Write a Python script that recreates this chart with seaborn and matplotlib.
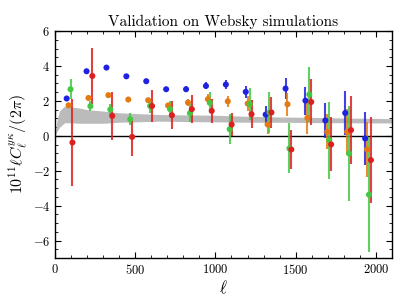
import numpy as np
import pandas as pd
import matplotlib
matplotlib.use("Agg")
import matplotlib.pyplot as plt
import seaborn as sns
from matplotlib.ticker import MultipleLocator

# bin centres (ell) for the four estimators, each shifted a little
ell_blue = [73, 197, 321, 445, 569, 693, 817, 941, 1065, 1189, 1313, 1437, 1561, 1685, 1809, 1933]
ell_orange = [e + 12 for e in ell_blue]
ell_green = [e + 24 for e in ell_blue]
ell_red = [e + 36 for e in ell_blue]

blue_val = [2.14, 3.70, 3.91, 3.41, 3.13, 2.67, 2.67, 2.86, 2.94, 2.52, 1.22, 2.71, 2.02, 0.88, 1.31, -0.15]
blue_err = [0.08, 0.08, 0.08, 0.10, 0.12, 0.15, 0.18, 0.20, 0.25, 0.35, 0.50, 0.60, 0.80, 1.00, 1.25, 1.50]

orange_val = [1.75, 2.17, 2.33, 2.08, 2.04, 1.74, 1.91, 2.10, 1.98, 1.85, 0.65, 1.81, 1.03, 0.23, 0.23, -0.78]
orange_err = [0.08, 0.10, 0.10, 0.10, 0.12, 0.15, 0.20, 0.30, 0.30, 0.45, 0.55, 0.65, 0.90, 1.00, 1.30, 1.55]

green_val = [2.67, 1.70, 1.51, 0.95, 1.71, 1.53, 1.30, 1.89, 0.38, 1.81, 1.34, -0.72, 2.37, -0.25, -1.01, -3.37]
green_err = [0.57, 0.27, 0.30, 0.35, 0.40, 0.45, 0.50, 0.60, 0.85, 0.92, 1.20, 1.43, 1.60, 2.20, 2.70, 3.30]

red_val = [-0.38, 3.43, 1.14, -0.06, 1.71, 1.18, 1.53, 1.43, 0.65, 1.24, 1.34, -0.78, 1.94, -0.49, 0.33, -1.39]
red_err = [2.50, 1.60, 1.40, 1.10, 0.90, 0.80, 0.80, 0.70, 0.67, 0.80, 0.90, 1.10, 1.30, 1.55, 1.95, 2.45]

# grey simulation scatter envelope
band_ell = [0, 15, 30, 60, 100, 150, 200, 300, 400, 500, 650, 800, 1000, 1200, 1400, 1600, 1800, 2000, 2100]
band_lo = [0.0, 0.3, 0.5, 0.75, 0.75, 0.72, 0.72, 0.72, 0.78, 0.80, 0.84, 0.82, 0.80, 0.78, 0.78, 0.76, 0.75, 0.74, 0.74]
band_hi = [0.1, 1.0, 1.45, 1.7, 1.65, 1.6, 1.5, 1.42, 1.32, 1.28, 1.22, 1.20, 1.18, 1.12, 1.08, 1.06, 1.02, 1.00, 0.98]

sns.set_style("ticks")
plt.rcParams['font.family'] = 'serif'
plt.rcParams['font.serif'] = ['cmr10', 'DejaVu Serif']
plt.rcParams['mathtext.fontset'] = 'cm'
plt.rcParams['axes.formatter.use_mathtext'] = True
plt.rcParams['axes.edgecolor'] = 'black'
plt.rcParams['axes.linewidth'] = 1.0
plt.rcParams['xtick.color'] = 'black'
plt.rcParams['ytick.color'] = 'black'
plt.rcParams['text.color'] = 'black'
plt.rcParams['axes.labelcolor'] = 'black'

series = [
    ("blue", ell_blue, blue_val, blue_err, "#2020e0"),
    ("orange", ell_orange, orange_val, orange_err, "#e47a12"),
    ("green", ell_green, green_val, green_err, "#44c844"),
    ("red", ell_red, red_val, red_err, "#dc2020"),
]

df = pd.concat([pd.DataFrame({"ell": e, "val": v, "err": s, "name": n})
                for n, e, v, s, c in series], ignore_index=True)
palette = {n: c for n, e, v, s, c in series}

fig = plt.figure(figsize=(4.07, 3.05), dpi=100)
ax = fig.add_axes([0.135, 0.154, 0.828, 0.744])

ax.fill_between(band_ell, band_lo, band_hi, color="#bbbbbb", lw=0, zorder=1)
ax.axhline(0, color="black", lw=1.0, zorder=2)

for n, e, v, s, c in series:
    ax.errorbar(e, v, yerr=s, fmt="none", ecolor=c, elinewidth=1.5, alpha=0.85, zorder=3)
sns.scatterplot(data=df, x="ell", y="val", hue="name", palette=palette, s=19,
                edgecolor="none", legend=False, ax=ax, zorder=4)

ax.set_xlim(0, 2100)
ax.set_ylim(-7, 6)
ax.xaxis.set_major_locator(MultipleLocator(500))
ax.xaxis.set_minor_locator(MultipleLocator(100))
ax.yaxis.set_major_locator(MultipleLocator(2))
ax.yaxis.set_minor_locator(MultipleLocator(0.5))
ax.tick_params(which="both", direction="in", top=True, right=True, labelsize=9)
ax.tick_params(which="major", length=4)
ax.tick_params(which="minor", length=2)

ax.set_xlabel(r"$\ell$", fontsize=12, labelpad=1)
ax.set_ylabel(r"$10^{11}\ell C_\ell^{y\kappa}/(2\pi)$", fontsize=11.5, labelpad=2)
ax.set_title("Validation on Websky simulations", fontsize=11, pad=4)

fig.savefig("out.png", dpi=100)
